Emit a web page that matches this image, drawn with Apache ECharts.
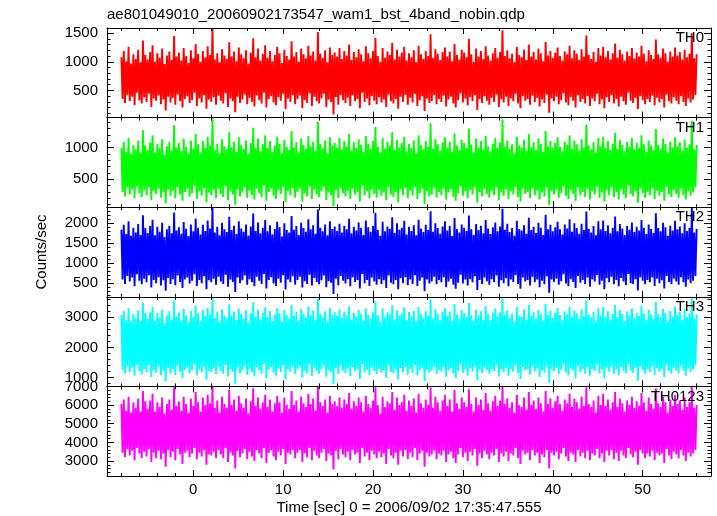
<!DOCTYPE html>
<html><head><meta charset="utf-8">
<script src="https://cdn.jsdelivr.net/npm/echarts@6/dist/echarts.min.js"></script>
<style>html,body{margin:0;padding:0;background:#fff}#c{width:717px;height:516px}</style>
</head><body><div id="c"></div>
<script>
// time bins: start time and bin width (sec)
const T0 = -8, DT = 0.1333333;

const th0 = [
1080,350,1190,280,1010,420,1260,310,970,390,1130,240,1050,460,1210,330,990,270,1370,380,
1120,300,1040,440,1170,210,1290,360,1000,320,1150,410,1070,260,1230,340,960,150,1110,390,
1180,290,1030,370,1450,250,1090,430,1160,310,1020,200,1240,350,1100,400,980,280,1200,330,
1060,460,1310,230,1140,360,1000,290,1190,420,1080,180,1270,340,1120,300,1590,380,1040,250,
1150,410,990,320,1220,270,1110,450,1050,210,1340,360,1090,310,1180,120,1010,390,1250,280,
1130,340,1060,430,1200,260,970,370,1160,300,1410,220,1080,410,1230,330,1020,270,1140,460,
1290,200,1070,350,1190,400,1010,290,1120,240,1260,380,1150,320,980,440,1210,170,1100,360,
1040,300,1360,420,1090,260,1170,350,1000,410,1230,190,1130,330,1060,280,1280,450,1110,230,
1180,390,1020,310,1520,270,1140,360,1070,440,1200,210,990,340,1250,300,1120,80,1160,380,
1090,250,1240,420,1050,330,1190,280,1110,370,1300,230,1030,410,1170,310,1080,350,1220,190,
1130,460,1010,300,1270,360,1150,240,1060,400,1190,320,1420,260,1100,380,1000,290,1240,340,
1070,210,1180,430,1120,310,1330,270,1040,350,1210,180,1090,390,1160,300,1260,420,1020,250,
1150,370,1080,290,1200,440,990,230,1280,330,1130,400,1050,140,1190,360,1100,280,1480,310,
1060,420,1220,260,1140,350,1030,300,1170,410,1250,220,1090,340,1180,390,1010,270,1310,200,
1120,330,1040,450,1210,290,1160,360,1080,240,1400,380,1130,310,1000,420,1230,160,1090,350,
1190,280,1050,400,1270,320,1110,250,1020,370,1150,300,1240,430,1070,210,1170,340,1550,290,
1100,390,1200,230,1060,360,1140,310,990,440,1260,270,1120,190,1080,400,1210,320,1030,350,
1300,250,1090,410,1170,300,1040,370,1230,220,1150,340,1010,280,1350,430,1110,110,1190,360,
1070,310,1160,390,1250,260,1100,330,1020,450,1180,290,1130,240,1280,380,1060,320,1200,200,
1140,420,1030,300,1220,350,1090,270,1460,400,1120,230,1050,360,1170,310,1000,440,1240,260,
1110,340,1260,190,1080,380,1190,300,1040,420,1150,270,1320,350,1070,220,1210,390,1130,310,
1020,250,1180,460,1100,320,1240,280,1060,370,1160,170,1090,400,1280,330,1140,260,1010,350,
1200,300,1120,410,1050,240,1390,370,1130,290,1070,350,1230,200,1150,430,1000,310,1180,270,
1090,380,1250,320,1110,260,1170,400,1040,300,1210,230,1080,360,1140,290,1500,340,1060,420,
1130];

const th1 = [
990,300,1090,230,930,370,1150,260,900,340,1040,200,970,390,1110,280,920,220,1270,330,
1030,250,960,380,1080,170,1190,310,920,270,1060,350,990,210,1130,290,890,120,1020,340,
1090,240,950,320,1350,200,1000,370,1070,260,940,160,1140,300,1010,350,910,230,1110,280,
980,400,1210,190,1050,310,920,240,1100,360,990,140,1170,290,1030,250,1460,330,960,200,
1060,350,910,270,1130,220,1020,390,970,170,1240,310,1000,260,1090,100,930,340,1160,230,
1040,290,980,370,1110,210,900,320,1070,250,1310,180,990,350,1140,280,940,220,1050,400,
1190,160,990,300,1100,350,930,240,1030,190,1170,330,1060,270,910,380,1120,140,1010,310,
960,250,1260,360,1000,210,1080,300,920,350,1140,150,1040,280,980,230,1180,390,1020,190,
1090,340,940,260,1410,220,1050,310,990,380,1110,170,910,290,1160,250,1030,70,1070,330,
1000,200,1150,360,970,280,1100,230,1020,320,1210,190,950,350,1080,260,990,300,1130,150,
1040,400,930,250,1180,310,1060,200,980,340,1100,270,1320,210,1010,330,920,240,1150,290,
980,170,1090,370,1030,260,1240,220,960,300,1120,140,1000,340,1070,250,1170,360,940,200,
1060,320,990,240,1110,380,910,190,1190,280,1040,350,970,110,1100,310,1010,230,1380,260,
980,360,1130,210,1050,300,950,250,1080,350,1160,180,1000,290,1090,340,930,220,1220,160,
1030,280,960,390,1120,240,1070,310,990,200,1300,330,1040,260,920,370,1140,130,1000,300,
1100,230,970,350,1180,270,1020,210,940,320,1060,250,1150,370,990,170,1080,290,1440,240,
1010,340,1110,190,980,310,1050,260,910,380,1170,220,1030,150,1000,350,1120,270,950,300,
1210,200,1000,360,1080,250,960,320,1140,180,1060,290,930,230,1260,370,1020,90,1100,310,
990,260,1070,340,1160,210,1010,280,940,390,1090,240,1040,190,1190,330,980,270,1110,160,
1050,370,950,250,1130,300,1000,220,1360,350,1030,180,970,310,1080,260,920,380,1150,210,
1020,290,1170,150,990,330,1100,250,960,370,1060,220,1230,300,980,180,1120,340,1040,260,
940,200,1090,400,1010,270,1150,230,970,320,1070,130,1000,350,1190,280,1050,210,930,300,
1110,250,1030,360,960,190,1290,320,1040,240,980,300,1140,160,1060,380,920,260,1090,220,
1000,330,1160,270,1020,210,1080,350,950,250,1120,180,990,310,1050,240,1420,290,970,370,
1040];

const th2 = [
1830,590,1950,480,1720,680,2040,540,1680,640,1880,420,1760,720,1970,560,1700,470,2190,610,
1870,520,1750,700,1920,390,2080,580,1690,500,1900,650,1780,440,2000,570,1650,310,1840,630,
1930,480,1740,600,2260,450,1810,690,1890,530,1730,380,2020,590,1850,640,1670,490,1960,560,
1790,720,2110,430,1880,580,1710,500,1950,670,1800,350,2060,570,1860,520,2390,610,1760,460,
1900,660,1690,540,2000,480,1840,710,1770,410,2150,590,1820,530,1930,280,1720,640,2040,500,
1860,570,1780,690,1960,460,1680,600,1910,520,2230,420,1800,660,2010,560,1740,480,1880,730,
2070,370,1790,580,1940,650,1710,490,1850,430,2030,610,1890,510,1660,700,1990,340,1820,590,
1760,520,2170,670,1830,460,1920,580,1700,660,2000,390,1870,550,1780,480,2090,710,1840,440,
1940,630,1730,530,2330,470,1880,570,1790,690,1960,400,1690,550,2040,510,1850,230,1910,610,
1800,450,1980,680,1760,560,1930,490,1840,600,2100,420,1740,650,1900,530,1810,580,2010,370,
1870,730,1700,500,2060,580,1890,430,1780,640,1920,540,2250,460,1820,600,1680,480,2030,570,
1790,380,1910,690,1850,510,2140,470,1750,580,1990,350,1830,620,1880,500,2050,650,1710,450,
1900,590,1800,480,1940,700,1690,430,2080,560,1860,640,1770,300,1950,590,1820,490,2290,540,
1780,660,1990,470,1870,580,1730,520,1910,650,2040,400,1810,540,1920,610,1670,460,2120,360,
1850,510,1760,710,1960,490,1880,590,1800,440,2180,600,1840,520,1700,670,1970,330,1820,580,
1930,480,1740,640,2070,550,1860,460,1720,600,1890,520,2010,690,1790,410,1910,570,2350,500,
1830,620,1980,420,1770,590,1870,530,1680,700,2050,480,1850,360,1810,640,1940,540,1730,580,
2130,440,1820,660,1900,520,1750,590,2000,400,1880,560,1700,470,2200,670,1840,260,1950,590,
1790,530,1890,610,2030,460,1840,550,1710,720,1960,490,1860,420,2090,600,1780,530,1990,380,
1870,680,1730,510,1980,580,1820,480,2280,640,1850,410,1760,590,1920,540,1690,700,2040,460,
1840,560,2060,350,1800,620,1940,520,1740,660,1880,470,2160,580,1790,420,1970,630,1860,540,
1700,450,1920,730,1830,500,2010,480,1770,600,1900,320,1810,650,2070,560,1880,470,1720,580,
1960,520,1850,640,1750,430,2240,610,1870,500,1790,570,2000,370,1890,680,1680,530,1930,470,
1810,610,2050,540,1840,460,1910,650,1740,520,1990,410,1800,590,1870,500,2370,560,1760,680,
1850];

const th3 = [
3080,1260,3210,1140,2900,1380,3300,1190,2850,1330,3120,1060,2960,1430,3230,1220,2880,1110,3480,1290,
3150,1180,2940,1410,3170,1020,3350,1250,2870,1160,3140,1360,2990,1080,3260,1230,2810,870,3060,1320,
3200,1130,2920,1280,3560,1090,3030,1400,3160,1200,2890,990,3280,1260,3070,1340,2830,1150,3220,1240,
3010,1440,3390,1070,3130,1270,2860,1170,3240,1380,3040,930,3310,1230,3100,1190,3660,1300,2970,1110,
3180,1370,2840,1220,3270,1130,3060,1420,2980,1040,3430,1280,3050,1200,3190,800,2900,1330,3290,1150,
3110,1240,2960,1390,3230,1100,2830,1290,3150,1180,3500,1050,3020,1360,3250,1240,2930,1120,3140,1450,
3330,980,3000,1260,3210,1350,2880,1160,3090,1070,3300,1310,3130,1190,2850,1410,3240,950,3070,1280,
2950,1200,3420,1370,3050,1120,3180,1270,2870,1380,3280,1000,3110,1230,2990,1140,3360,1430,3080,1060,
3230,1330,2900,1210,3620,1130,3120,1280,3010,1400,3200,1030,2860,1250,3310,1190,3090,780,3170,1310,
3040,1110,3260,1390,2980,1230,3190,1150,3070,1300,3370,1050,2930,1350,3150,1210,3030,1270,3250,960,
3120,1450,2880,1180,3300,1270,3080,1080,2960,1340,3170,1220,3530,1120,3060,1300,2840,1160,3290,1240,
2990,1000,3160,1400,3100,1190,3400,1140,2920,1270,3240,940,3050,1320,3130,1180,3330,1360,2890,1100,
3180,1290,3030,1150,3220,1420,2850,1080,3350,1250,3110,1330,2970,880,3210,1270,3060,1170,3600,1230,
2960,1360,3270,1120,3120,1260,2910,1200,3180,1350,3320,1030,3040,1240,3190,1310,2870,1140,3440,980,
3090,1220,2950,1440,3240,1160,3130,1280,3020,1070,3470,1300,3080,1200,2880,1390,3250,910,3050,1260,
3200,1150,2930,1340,3380,1250,3100,1130,2900,1290,3160,1210,3290,1410,3030,1040,3170,1270,3640,1190,
3070,1320,3230,1060,2980,1280,3120,1200,2840,1430,3340,1150,3060,960,3010,1350,3260,1230,2920,1290,
3410,1100,3050,1380,3170,1210,2950,1300,3250,1020,3110,1240,2890,1160,3450,1370,3080,830,3220,1280,
2980,1210,3140,1330,3310,1120,3080,1260,2900,1440,3200,1170,3100,1070,3360,1310,3010,1240,3230,990,
3130,1390,2940,1190,3270,1290,3050,1130,3550,1350,3090,1060,2990,1280,3180,1220,2860,1430,3300,1140,
3060,1270,3340,970,3020,1340,3210,1200,2930,1380,3120,1110,3420,1290,3000,1080,3240,1350,3110,1230,
2870,1140,3190,1450,3070,1240,3300,1160,2970,1330,3150,900,3040,1360,3390,1250,3130,1120,2900,1290,
3250,1190,3100,1370,2950,1090,3510,1320,3110,1200,3000,1280,3280,1010,3140,1410,2850,1220,3210,1130,
3030,1330,3360,1240,3080,1150,3180,1390,2920,1230,3270,1060,3010,1310,3120,1190,3630,1270,2960,1400,
3090];

const th0123 = [
6050,3450,6300,3200,5700,3650,6450,3300,5600,3550,6150,3050,5850,3700,6350,3400,5650,3150,6750,3500,
6200,3250,5800,3650,6250,2950,6600,3450,5650,3150,6150,3550,5900,3100,6400,3400,5550,2700,6050,3600,
6300,3200,5750,3500,6950,3050,5950,3650,6200,3350,5700,2850,6450,3450,6050,3550,5600,3200,6350,3400,
5950,3700,6700,3100,6150,3450,5650,3250,6400,3600,6000,2800,6550,3350,6100,3300,7000,3500,5850,3150,
6250,3600,5600,3350,6450,3150,6050,3700,5850,2950,6800,3450,6000,3300,6300,2600,5700,3550,6500,3200,
6100,3400,5850,3650,6350,3100,5550,3500,6200,3250,6900,3000,5950,3600,6400,3400,5800,3150,6150,3700,
6550,2900,5900,3450,6300,3600,5650,3250,6100,3050,6500,3500,6150,3300,5600,3650,6400,2850,6000,3450,
5800,3350,6750,3600,6000,3150,6250,3450,5650,3600,6450,2950,6100,3400,5900,3200,6600,3700,6050,3050,
6350,3550,5700,3300,7000,3150,6150,3450,5950,3650,6300,3000,5600,3400,6500,3300,6050,2550,6200,3550,
5950,3100,6400,3650,5850,3350,6300,3200,6050,3500,6650,3050,5800,3600,6200,3350,5950,3450,6400,2900,
6150,3700,5650,3250,6500,3450,6050,3050,5850,3550,6250,3350,6950,3150,6000,3500,5550,3200,6450,3400,
5900,2850,6200,3650,6100,3300,6700,3150,5750,3450,6400,2800,6000,3550,6150,3250,6550,3600,5700,3100,
6250,3450,5950,3200,6350,3700,5600,3050,6600,3400,6100,3550,5850,2700,6300,3450,6000,3250,6950,3350,
5850,3550,6450,3100,6150,3400,5700,3300,6250,3550,6550,2950,5950,3350,6300,3500,5650,3150,6800,2900,
6100,3350,5800,3700,6400,3200,6150,3450,5900,3000,6850,3500,6050,3300,5650,3650,6400,2750,6000,3400,
6300,3150,5750,3550,6650,3350,6100,3100,5700,3450,6200,3300,6500,3650,5950,2950,6250,3400,7000,3250,
6050,3500,6350,3000,5850,3400,6150,3300,5600,3700,6550,3150,6000,2850,5900,3550,6400,3350,5750,3450,
6700,3050,6000,3600,6250,3300,5800,3450,6400,2900,6100,3350,5650,3200,6750,3600,6050,2600,6350,3450,
5850,3300,6200,3500,6500,3100,6050,3400,5700,3700,6300,3250,6100,3000,6600,3450,5900,3350,6350,2950,
6150,3600,5800,3250,6450,3450,5950,3150,6950,3550,6050,3050,5900,3400,6250,3300,5600,3650,6500,3150,
6000,3400,6600,2950,5950,3550,6300,3300,5750,3600,6150,3100,6700,3450,5900,3000,6350,3550,6100,3300,
5650,3150,6250,3700,6000,3350,6450,3200,5850,3500,6200,2800,5950,3600,6650,3400,6150,3150,5700,3400,
6400,3250,6050,3550,5800,3050,6900,3450,6100,3300,5900,3400,6450,2900,6150,3650,5600,3300,6300,3100,
5950,3500,6550,3350,6050,3150,6250,3600,5750,3300,6400,3000,5900,3450,6150,3250,7000,3400,5850,3600,
6000];

const seriesValues = [th0, th1, th2, th3, th0123];
const panelNames = ['TH0', 'TH1', 'TH2', 'TH3', 'TH0123'];
const colors = ['#ff0000', '#00ff00', '#0000ff', '#00ffff', '#ff00ff'];
const yMin = [25, 60, 160, 710, 2200];
const yMax = [1590, 1470, 2390, 3680, 7000];
const yMajorTicks = [
  [500, 1000, 1500],
  [500, 1000],
  [500, 1000, 1500, 2000],
  [1000, 2000, 3000],
  [3000, 4000, 5000, 6000, 7000]
];
const yMinorStep = [100, 100, 100, 200, 200];
const xMajorTicks = [0, 10, 20, 30, 40, 50];
const xMinorStep = 2;
const xMin = -9.6, xMax = 57.6;
const titleText = 'ae801049010_20060902173547_wam1_bst_4band_nobin.qdp';
const xTitle = 'Time [sec] 0 = 2006/09/02 17:35:47.555';
const yTitle = 'Counts/sec';

const FONT = '"Liberation Sans", Arial, Helvetica, sans-serif';
const GRID_LEFT = 107, GRID_RIGHT_X = 711, GRID_TOP = 28, PANEL_H = 89.6;

function stepTicks(min, max, step) {
  const out = [];
  for (let v = Math.ceil(min / step) * step; v <= max + 1e-9; v += step) out.push(+v.toFixed(6));
  return out;
}
const xMinorTicks = stepTicks(xMin, xMax, xMinorStep);

const grids = [], xAxes = [], yAxes = [], series = [], graphics = [];
const black = '#000';
const fmt = v => String(v);

for (let i = 0; i < 5; i++) {
  const top = GRID_TOP + i * PANEL_H;
  grids.push({ left: GRID_LEFT, width: GRID_RIGHT_X - GRID_LEFT, top: top, height: PANEL_H, containLabel: false });
  const isLast = i === 4;
  const xa = (pos, ticks, len, line, labels) => ({
    type: 'value', gridIndex: i, min: xMin, max: xMax, position: pos, z: 10,
    axisLine: { show: line, onZero: false, lineStyle: { color: black, width: 1 } },
    axisTick: { show: true, inside: true, length: len, customValues: ticks, lineStyle: { color: black, width: 1 } },
    axisLabel: labels ? { show: true, customValues: xMajorTicks, formatter: fmt, color: black, fontSize: 15, fontFamily: FONT, margin: 6 } : { show: false },
    splitLine: { show: false }
  });
  xAxes.push(xa('bottom', xMajorTicks, 6, true, isLast));
  xAxes.push(xa('bottom', xMinorTicks, 3, false, false));
  xAxes.push(xa('top', xMajorTicks, 6, true, false));
  xAxes.push(xa('top', xMinorTicks, 3, false, false));

  const minor = stepTicks(yMin[i], yMax[i], yMinorStep[i]);
  const ya = (pos, ticks, len, line, labels) => ({
    type: 'value', gridIndex: i, min: yMin[i], max: yMax[i], position: pos, z: 10,
    axisLine: { show: line, onZero: false, lineStyle: { color: black, width: 1 } },
    axisTick: { show: true, inside: true, length: len, customValues: ticks, lineStyle: { color: black, width: 1 } },
    axisLabel: labels ? { show: true, customValues: yMajorTicks[i], formatter: fmt, color: black, fontSize: 15, fontFamily: FONT, margin: 9 } : { show: false },
    splitLine: { show: false }
  });
  yAxes.push(ya('left', yMajorTicks[i], 7, true, true));
  yAxes.push(ya('left', minor, 3.5, false, false));
  yAxes.push(ya('right', yMajorTicks[i], 7, true, false));
  yAxes.push(ya('right', minor, 3.5, false, false));

  const vals = seriesValues[i];
  series.push({
    type: 'line', name: panelNames[i], xAxisIndex: 4 * i, yAxisIndex: 4 * i,
    data: vals.map((v, k) => [T0 + k * DT, v]),
    showSymbol: false, symbol: 'none', clip: true,
    lineStyle: { color: colors[i], width: 1.9, join: 'bevel' }, itemStyle: { color: colors[i] },
    animation: false, silent: true, z: 2
  });

  graphics.push({
    type: 'text', z: 100,
    style: { text: panelNames[i], x: 704, y: top + 10, fill: black, font: '15px ' + FONT,
      textAlign: 'right', align: 'right', textVerticalAlign: 'middle', verticalAlign: 'middle' }
  });
}

graphics.push({
  type: 'text', z: 100,
  style: { text: titleText, x: 107, y: 15, fill: black, font: '15px ' + FONT,
    textAlign: 'left', align: 'left', textVerticalAlign: 'middle', verticalAlign: 'middle' }
});
graphics.push({
  type: 'text', z: 100,
  style: { text: xTitle, x: 409, y: 508, fill: black, font: '15px ' + FONT,
    textAlign: 'center', align: 'center', textVerticalAlign: 'middle', verticalAlign: 'middle' }
});
graphics.push({
  type: 'text', z: 100, x: 42, y: 252, rotation: Math.PI / 2,
  style: { text: yTitle, x: 0, y: 0, fill: black, font: '15px ' + FONT,
    textAlign: 'center', align: 'center', textVerticalAlign: 'middle', verticalAlign: 'middle' }
});

const chart = echarts.init(document.getElementById('c'), null, { renderer: 'canvas' });
chart.setOption({
  animation: false,
  backgroundColor: '#fff',
  grid: grids,
  xAxis: xAxes,
  yAxis: yAxes,
  series: series,
  graphic: graphics
});
</script>
</body></html>
